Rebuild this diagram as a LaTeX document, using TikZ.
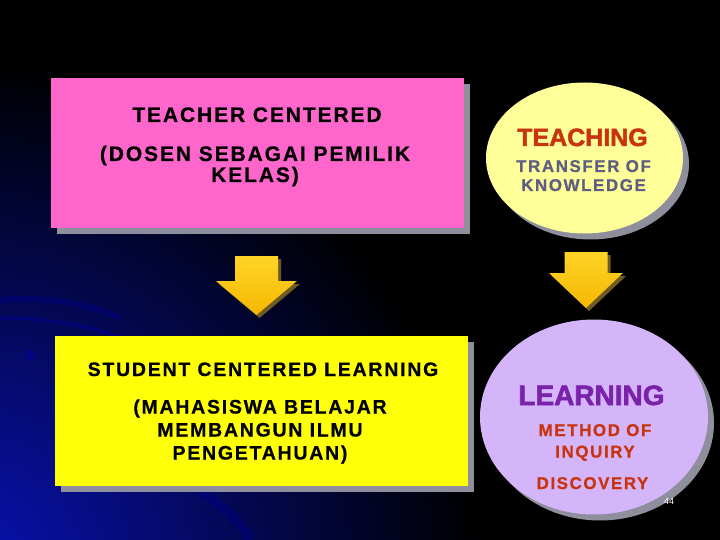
\documentclass[tikz,border=0pt]{standalone}
\usepackage{fontspec}
\setmainfont{Liberation Sans}
\newfontfamily\spaced[LetterSpace=9,BoldFeatures={FakeBold=0.6}]{Liberation Sans}
\newfontfamily\heavy[BoldFeatures={FakeBold=2}]{Liberation Sans}
\usetikzlibrary{shapes.geometric,shadows,positioning}

\definecolor{pinkbox}{HTML}{FF66CC}
\definecolor{yellowbox}{HTML}{FFFF0A}
\definecolor{paleyellow}{HTML}{FFFF99}
\definecolor{lavender}{HTML}{D5B5FA}
\definecolor{shadowgray}{HTML}{8E8E9C}
\definecolor{arrowtop}{HTML}{FFD428}
\definecolor{arrowbottom}{HTML}{F5B800}
\definecolor{arrowshade}{HTML}{6E5C22}
\definecolor{glowblue}{HTML}{0812B8}
\definecolor{rustred}{HTML}{C8340F}
\definecolor{slateblue}{HTML}{5E5E82}
\definecolor{deeppurple}{HTML}{7A22AA}

\begin{document}
\begin{tikzpicture}[x=1pt,y=-1pt]
    \tikzstyle{every node}=[inner sep=0pt]
    \tikzstyle{flatshadow}=[drop shadow={shadow xshift=6pt,shadow yshift=-6pt,fill=shadowgray,opacity=1}]
    \tikzstyle{slidebox}=[rectangle, minimum width=413pt, minimum height=150pt, flatshadow]
    \tikzstyle{bubble}=[ellipse, flatshadow]
    \tikzstyle{boxtext}=[anchor=base, align=center]
    \tikzstyle{bigtext}=[boxtext, font=\spaced\bfseries\fontsize{21}{21}\selectfont]
    \tikzstyle{midtext}=[boxtext, font=\spaced\bfseries\fontsize{19.5}{23}\selectfont]
    \tikzstyle{smalltext}=[boxtext, font=\spaced\bfseries\fontsize{17}{19}\selectfont]
    \tikzstyle{headword}=[anchor=base, font=\heavy\bfseries\fontsize{25}{25}\selectfont]

    % background with the blue glow
    \fill[black] (0,0) rectangle (720,540);
    \begin{scope}
        \clip (0,0) rectangle (720,540);
        \shade[inner color=glowblue, outer color=black] (-40,580) circle (520);
        \draw[blue!60!black, line width=3pt, opacity=.5] (0,318) .. controls (60,318) and (110,330) .. (150,350);
        \draw[blue!50!black, line width=6pt, opacity=.5] (0,300) .. controls (50,296) and (90,305) .. (120,318);
        \fill[blue!60!black, opacity=.6] (30,355) circle (5);
        \draw[blue!50!black, line width=10pt, opacity=.5] (195,488) .. controls (220,505) and (240,520) .. (250,540);
    \end{scope}

    % boxes
    \node[slidebox, fill=pinkbox] (teacher) at (257.5,153) {};
    \node[slidebox, fill=yellowbox] (student) at (261.5,411) {};
    \node[bubble, fill=paleyellow, minimum width=197pt, minimum height=151pt] (teaching) at (584.5,158) {};
    \node[bubble, fill=lavender, minimum width=228pt, minimum height=195pt] (learning) at (594,417) {};

    % block arrows
    \coordinate (arrowL) at (256.5,256);
    \coordinate (arrowR) at (586,252);
    \foreach \at/\hw/\hy/\ty in {arrowL/81/25/59, arrowR/74/21/56}{
        \fill[arrowshade, shift={(\at)}, xshift=3pt, yshift=-3pt] (-21.5,0) -- (21.5,0) -- (21.5,\hy) -- ({\hw/2},\hy) -- (0,\ty) -- ({-\hw/2},\hy) -- (-21.5,\hy) -- cycle;
        \shade[top color=arrowtop, bottom color=arrowbottom, shift={(\at)}] (-21.5,0) -- (21.5,0) -- (21.5,\hy) -- ({\hw/2},\hy) -- (0,\ty) -- ({-\hw/2},\hy) -- (-21.5,\hy) -- cycle;
    }

    % texts (multi-line nodes sit on the baseline of their last line)
    \node[bigtext] (teacherTitle) at (257,122) {TEACHER CENTERED};
    \node[bigtext] (teacherNote) at (255,182) {(DOSEN SEBAGAI PEMILIK\\KELAS)};
    \node[midtext] (studentTitle) at (263,376) {STUDENT CENTERED LEARNING};
    \node[midtext] (studentNote) at (260,459.5) {(MAHASISWA BELAJAR\\MEMBANGUN ILMU\\PENGETAHUAN)};
    \node[headword, text=rustred] (teachingWord) at (582.5,146) {TEACHING};
    \node[smalltext, text=slateblue] (teachingNote) at (583.5,191) {TRANSFER OF\\KNOWLEDGE};
    \node[headword, text=deeppurple, font=\heavy\bfseries\fontsize{28}{28}\selectfont] (learningWord) at (591.5,405) {LEARNING};
    \node[smalltext, text=rustred, font=\spaced\bfseries\fontsize{17}{21.5}\selectfont] (learningNote) at (595,457.5) {METHOD OF\\INQUIRY};
    \node[smalltext, text=rustred] (discovery) at (592.5,489) {DISCOVERY};
    \node[text=white, font=\fontsize{9}{9}\selectfont] (pagenum) at (669,501) {44};

    \useasboundingbox (0,0) rectangle (720,540);
\end{tikzpicture}
\end{document}
